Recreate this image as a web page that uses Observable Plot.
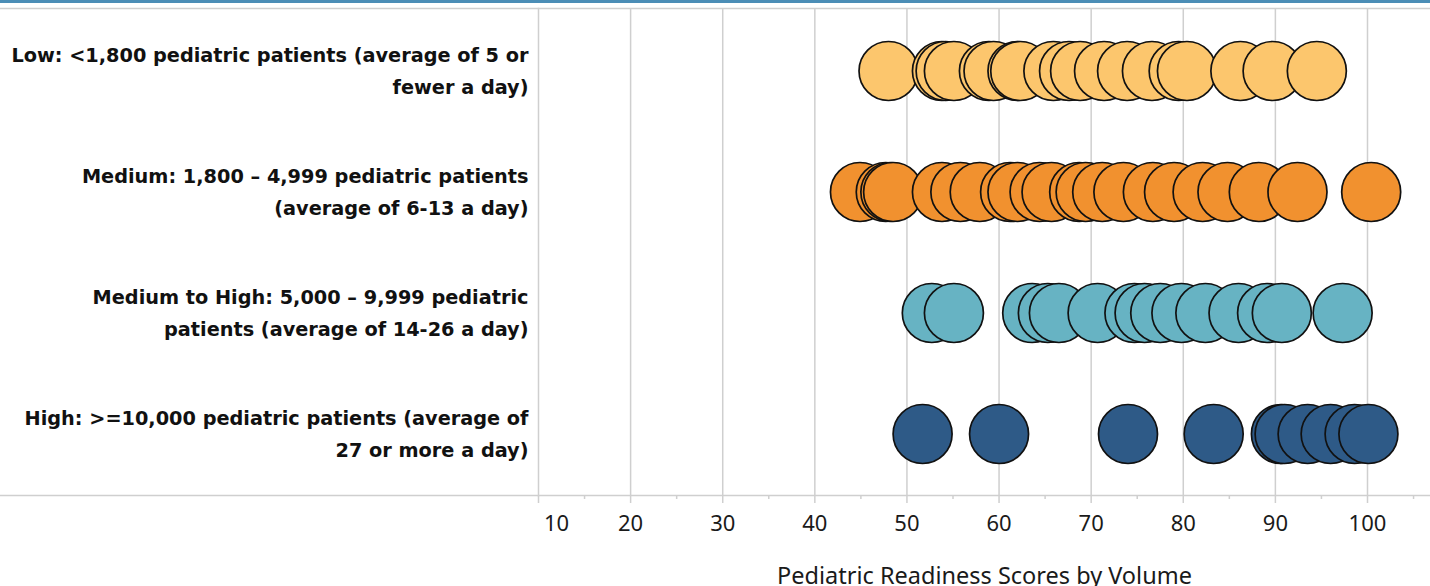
<!DOCTYPE html>
<html>
<head>
<meta charset="utf-8">
<script src="https://cdn.jsdelivr.net/npm/d3@7"></script>
<script src="https://cdn.jsdelivr.net/npm/@observablehq/plot@0.6"></script>
<style>
  html, body { margin: 0; padding: 0; background: #fff; }
  #wrap { position: relative; width: 1430px; height: 586px; overflow: hidden; }
  #topbar { position: absolute; left: 0; top: 0; width: 1430px; height: 3px; background: #4b8db6; }
  svg { display: block; }
</style>
</head>
<body>
<div id="wrap"><div id="topbar"></div><div id="chart"></div></div>
<script>
const groups = ["Low", "Medium", "Medium to High", "High"];
const groupLabels = [
  "Low: <1,800 pediatric patients (average of 5 or\nfewer a day)",
  "Medium: 1,800 – 4,999 pediatric patients\n(average of 6-13 a day)",
  "Medium to High: 5,000 – 9,999 pediatric\npatients (average of 14-26 a day)",
  "High: >=10,000 pediatric patients (average of\n27 or more a day)"
];
const groupColors = ["#fcc66d", "#f1912f", "#67b3c3", "#2e5a87"];

const lowScores = [48.0, 53.8, 54.2, 55.1, 58.9, 59.4, 62.0, 62.3, 65.9, 67.6, 68.8, 71.4, 73.9, 76.6, 79.5, 80.4, 86.2, 89.7, 94.5];
const mediumScores = [44.9, 47.7, 48.2, 48.5, 53.8, 55.8, 57.9, 61.2, 62.0, 64.4, 65.7, 68.7, 69.4, 71.2, 73.5, 76.7, 79.0, 82.1, 84.8, 88.2, 92.4, 100.4];
const medHighScores = [52.7, 55.1, 63.6, 65.3, 66.5, 70.7, 74.7, 75.8, 77.5, 79.8, 82.4, 86.0, 89.1, 90.7, 97.3];
const highScores = [51.7, 60.0, 74.0, 83.3, 90.6, 91.0, 93.5, 96.0, 98.6, 100.1];

const majorTicks = [10, 20, 30, 40, 50, 60, 70, 80, 90, 100];
const minorTicks = [15, 25, 35, 45, 55, 65, 75, 85, 95, 105];
const xTitle = "Pediatric Readiness Scores by Volume";

const series = [lowScores, mediumScores, medHighScores, highScores];
const data = series.flatMap((arr, i) => arr.map(v => ({group: groups[i], score: v})));
const labelRows = groups.map((g, i) => ({group: g, label: groupLabels[i]}));

const FONT = "'Noto Sans', sans-serif";
const GRID = "#cfcfcf";

const chart = Plot.plot({
  width: 1430,
  height: 586,
  marginTop: 8,
  marginBottom: 91,
  marginLeft: 538,
  marginRight: 0,
  style: {fontFamily: FONT, background: "transparent"},
  x: {domain: [10, 106.84], axis: null},
  y: {type: "band", domain: groups, padding: 0, axis: null},
  color: {domain: groups, range: groupColors},
  marks: [
    Plot.gridX(majorTicks.slice(1), {stroke: GRID, strokeOpacity: 1, strokeWidth: 1.5}),
    Plot.frame({anchor: "top", stroke: GRID, strokeWidth: 1.5, insetLeft: -538}),
    Plot.frame({anchor: "bottom", stroke: GRID, strokeWidth: 1.5, insetLeft: -538}),
    Plot.frame({anchor: "left", stroke: GRID, strokeWidth: 1.5}),
    Plot.axisX(majorTicks, {tickSize: 8, stroke: GRID, strokeWidth: 1.5, tickFormat: () => "", label: null}),
    Plot.axisX(minorTicks, {tickSize: 4, stroke: GRID, strokeWidth: 1.5, tickFormat: () => "", label: null}),
    Plot.axisX([10], {tickSize: 0, tickPadding: 20, fontSize: 22, fill: "#1a1a1a", dx: 18, label: null}),
    Plot.axisX(majorTicks.slice(1), {tickSize: 0, tickPadding: 20, fontSize: 22, fill: "#1a1a1a", label: xTitle, labelAnchor: "center", labelArrow: "none", labelOffset: 88}),
    Plot.dot(data, {x: "score", y: "group", r: 29.5, fill: "group", fillOpacity: 1, stroke: "#111", strokeWidth: 1.7}),
    Plot.text(labelRows, {y: "group", text: "label", frameAnchor: "left", dx: -10, dy: -3, textAnchor: "end", lineHeight: 1.65, fontSize: 19.3, fontWeight: "bold", fill: "#111", fontFamily: "'DejaVu Sans', sans-serif"})
  ]
});
d3.select(chart).selectAll("g[aria-label='x-axis label'] text").attr("font-size", 23.5).attr("fill", "#1a1a1a");
document.getElementById("chart").appendChild(chart);
</script>
</body>
</html>
